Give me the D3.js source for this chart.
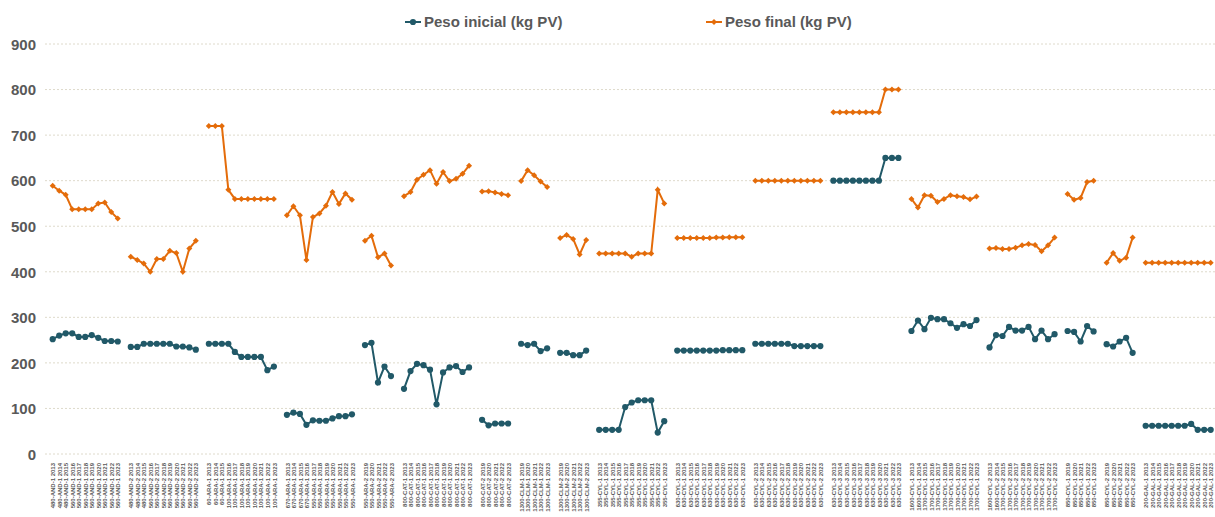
<!DOCTYPE html>
<html lang="es">
<head>
<meta charset="UTF-8">
<title>Peso inicial y final</title>
<script src="https://cdn.jsdelivr.net/npm/d3@7"></script>
<style>
  body { margin: 0; background: #fff; }
  svg { font-family: "Liberation Sans", Arial, sans-serif; }
  .ylab { font-size: 15px; font-weight: bold; fill: #595959; }
  .xlab { font-size: 6px; font-weight: bold; fill: #595959; }
  .leg { font-size: 15px; font-weight: bold; fill: #595959; }
</style>
</head>
<body>
<svg id="main" width="1215" height="517"></svg>
<script>
// x categories, one array per farm group (a blank slot is left between groups)
const categories = [
  ["480-AND-1 2013","480-AND-1 2014","480-AND-1 2015","560-AND-1 2016","560-AND-1 2017","560-AND-1 2018","560-AND-1 2019","560-AND-1 2020","560-AND-1 2021","560-AND-1 2022","560-AND-1 2023"],
  ["480-AND-2 2013","480-AND-2 2014","480-AND-2 2015","560-AND-2 2016","560-AND-2 2017","560-AND-2 2018","560-AND-2 2019","560-AND-2 2020","560-AND-2 2021","560-AND-2 2022","560-AND-2 2023"],
  ["60-ARA-1 2013","60-ARA-1 2014","60-ARA-1 2015","100-ARA-1 2016","100-ARA-1 2017","100-ARA-1 2018","100-ARA-1 2019","100-ARA-1 2020","100-ARA-1 2021","100-ARA-1 2022","100-ARA-1 2023"],
  ["670-ARA-1 2013","670-ARA-1 2014","670-ARA-1 2015","670-ARA-1 2016","550-ARA-1 2017","550-ARA-1 2018","550-ARA-1 2019","550-ARA-1 2020","550-ARA-1 2021","550-ARA-1 2022","550-ARA-1 2023"],
  ["550-ARA-2 2019","550-ARA-2 2020","550-ARA-2 2021","550-ARA-2 2022","550-ARA-2 2023"],
  ["800-CAT-1 2013","800-CAT-1 2014","800-CAT-1 2015","800-CAT-1 2016","800-CAT-1 2017","800-CAT-1 2018","800-CAT-1 2019","800-CAT-1 2020","800-CAT-1 2021","800-CAT-1 2022","800-CAT-1 2023"],
  ["800-CAT-2 2019","800-CAT-2 2020","800-CAT-2 2021","800-CAT-2 2022","800-CAT-2 2023"],
  ["1300-CLM-1 2019","1300-CLM-1 2020","1300-CLM-1 2021","1300-CLM-1 2022","1300-CLM-1 2023"],
  ["1300-CLM-2 2019","1300-CLM-2 2020","1300-CLM-2 2021","1300-CLM-2 2022","1300-CLM-2 2023"],
  ["355-CYL-1 2013","355-CYL-1 2014","355-CYL-1 2015","355-CYL-1 2016","355-CYL-1 2017","355-CYL-1 2018","355-CYL-1 2019","355-CYL-1 2020","355-CYL-1 2021","355-CYL-1 2022","355-CYL-1 2023"],
  ["630-CYL-1 2013","630-CYL-1 2014","630-CYL-1 2015","630-CYL-1 2016","630-CYL-1 2017","630-CYL-1 2018","630-CYL-1 2019","630-CYL-1 2020","630-CYL-1 2021","630-CYL-1 2022","630-CYL-1 2023"],
  ["630-CYL-2 2013","630-CYL-2 2014","630-CYL-2 2015","630-CYL-2 2016","630-CYL-2 2017","630-CYL-2 2018","630-CYL-2 2019","630-CYL-2 2020","630-CYL-2 2021","630-CYL-2 2022","630-CYL-2 2023"],
  ["630-CYL-3 2013","630-CYL-3 2014","630-CYL-3 2015","630-CYL-3 2016","630-CYL-3 2017","630-CYL-3 2018","630-CYL-3 2019","630-CYL-3 2020","630-CYL-3 2021","630-CYL-3 2022","630-CYL-3 2023"],
  ["1600-CYL-1 2013","1600-CYL-1 2014","1700-CYL-1 2015","1700-CYL-1 2016","1700-CYL-1 2017","1700-CYL-1 2018","1700-CYL-1 2019","1700-CYL-1 2020","1700-CYL-1 2021","1700-CYL-1 2022","1700-CYL-1 2023"],
  ["1600-CYL-2 2013","1600-CYL-2 2014","1700-CYL-2 2015","1700-CYL-2 2016","1700-CYL-2 2017","1700-CYL-2 2018","1700-CYL-2 2019","1700-CYL-2 2020","1700-CYL-2 2021","1700-CYL-2 2022","1700-CYL-2 2023"],
  ["850-CYL-1 2019","850-CYL-1 2020","850-CYL-1 2021","850-CYL-1 2022","850-CYL-1 2023"],
  ["850-CYL-2 2019","850-CYL-2 2020","850-CYL-2 2021","850-CYL-2 2022","850-CYL-2 2023"],
  ["200-GAL-1 2013","200-GAL-1 2014","200-GAL-1 2015","200-GAL-1 2016","200-GAL-1 2017","200-GAL-1 2018","200-GAL-1 2019","200-GAL-1 2020","200-GAL-1 2021","200-GAL-1 2022","200-GAL-1 2023"]
];

const pesoInicial = [
  [252,260,265,265,257,257,261,255,248,248,247],
  [235,235,242,242,242,242,242,236,236,234,229],
  [242,242,242,242,224,213,213,213,213,184,192],
  [86,91,88,64,74,73,73,78,83,83,87],
  [239,244,157,192,171],
  [143,182,198,195,185,109,179,190,193,180,190],
  [75,63,67,67,67],
  [242,239,242,226,232],
  [222,222,217,217,227],
  [53,53,53,53,103,113,118,118,118,47,72],
  [227,227,227,227,227,227,227,228,228,228,228],
  [242,242,242,242,242,242,237,237,237,237,237],
  [600,600,600,600,600,600,600,600,650,650,650],
  [270,293,274,299,296,296,287,277,285,281,294],
  [234,261,259,279,271,271,279,252,271,252,263],
  [270,268,247,281,269],
  [241,236,247,255,222],
  [62,62,62,62,62,62,62,66,53,53,53]
];

const pesoFinal = [
  [589,578,569,537,537,537,537,550,552,531,517],
  [433,426,418,400,428,428,446,441,400,451,468],
  [720,720,720,580,560,560,560,560,560,560,560],
  [524,544,524,426,520,528,545,575,549,572,558],
  [468,479,432,440,414],
  [566,575,602,613,623,593,619,599,604,615,633],
  [576,577,574,571,568],
  [599,623,612,598,586],
  [474,481,472,438,470],
  [440,440,440,440,440,433,440,440,440,580,550],
  [474,474,474,474,474,474,475,475,476,476,476],
  [600,600,600,600,600,600,600,600,600,600,600],
  [750,750,750,750,750,750,750,750,800,800,800],
  [560,541,568,567,553,560,568,566,564,559,565],
  [451,452,450,450,453,458,461,459,445,458,475],
  [571,558,562,597,600],
  [420,441,424,431,475],
  [420,420,420,420,420,420,420,420,420,420,420]
];

const yTicks = [0,100,200,300,400,500,600,700,800,900];
const seriesNames = ["Peso inicial (kg PV)", "Peso final (kg PV)"];
const colors = ["#215968", "#e46c0a"];

let svg = d3.select("svg#main");

// flat domain with a blank slot between groups
let domain = [];
categories.forEach(function(g, gi){
  g.forEach(function(c){ domain.push(c); });
  if(gi < categories.length - 1) domain.push("gap" + gi);
});

let x = d3.scalePoint().domain(domain).range([52.7, 1210.7]);
let y = d3.scaleLinear().domain([0, 900]).range([454, 44]);

// grid
svg.append("g").selectAll("line")
  .data(yTicks).enter().append("line")
  .attr("x1", 45).attr("x2", 1215)
  .attr("y1", function(d){ return y(d); })
  .attr("y2", function(d){ return y(d); })
  .attr("stroke", "#dedacb")
  .attr("stroke-width", 1)
  .attr("stroke-dasharray", "2,2");

// y axis
let yAxis = svg.append("g")
  .attr("transform", "translate(45,0)")
  .call(d3.axisLeft(y).tickValues(yTicks).tickSize(0).tickPadding(9));
yAxis.select(".domain").remove();
yAxis.selectAll("text").attr("class", "ylab").attr("dy", "0.35em");

// x axis
let xAxis = svg.append("g")
  .attr("transform", "translate(0,454)")
  .call(d3.axisBottom(x).tickSize(0).tickFormat(function(d){ return d.startsWith("gap") ? "" : d; }));
xAxis.select(".domain").remove();
xAxis.selectAll("text")
  .attr("class", "xlab")
  .attr("transform", "rotate(-90)")
  .attr("x", -9)
  .attr("y", 0)
  .attr("dy", "0.35em")
  .style("text-anchor", "end");

// lines + markers
let line = d3.line()
  .x(function(d){ return x(d.cat); })
  .y(function(d){ return y(d.v); });

[pesoInicial, pesoFinal].forEach(function(series, si){
  let g = svg.append("g");
  series.forEach(function(vals, gi){
    let pts = vals.map(function(v, i){ return {cat: categories[gi][i], v: v}; });
    g.append("path")
      .datum(pts)
      .attr("d", line)
      .attr("fill", "none")
      .attr("stroke", colors[si])
      .attr("stroke-width", 2);
    if(si === 0){
      g.selectAll(null).data(pts).enter().append("circle")
        .attr("cx", function(d){ return x(d.cat); })
        .attr("cy", function(d){ return y(d.v); })
        .attr("r", 3.1)
        .attr("fill", colors[si]);
    } else {
      g.selectAll(null).data(pts).enter().append("path")
        .attr("d", d3.symbol(d3.symbolSquare, 18))
        .attr("transform", function(d){ return "translate(" + x(d.cat) + "," + y(d.v) + ") rotate(45)"; })
        .attr("fill", colors[si]);
    }
  });
});

// legend
let legX = [405, 706];
seriesNames.forEach(function(name, i){
  let lg = svg.append("g").attr("transform", "translate(" + legX[i] + ",22)");
  lg.append("line").attr("x1", 0).attr("x2", 16).attr("y1", 0).attr("y2", 0)
    .attr("stroke", colors[i]).attr("stroke-width", 2);
  if(i === 0){
    lg.append("circle").attr("cx", 8).attr("cy", 0).attr("r", 3.1).attr("fill", colors[i]);
  } else {
    lg.append("path").attr("d", d3.symbol(d3.symbolSquare, 18))
      .attr("transform", "translate(8,0) rotate(45)").attr("fill", colors[i]);
  }
  lg.append("text").attr("class", "leg").attr("x", 19).attr("y", 0).attr("dy", "0.35em").text(name);
});
</script>
</body>
</html>
